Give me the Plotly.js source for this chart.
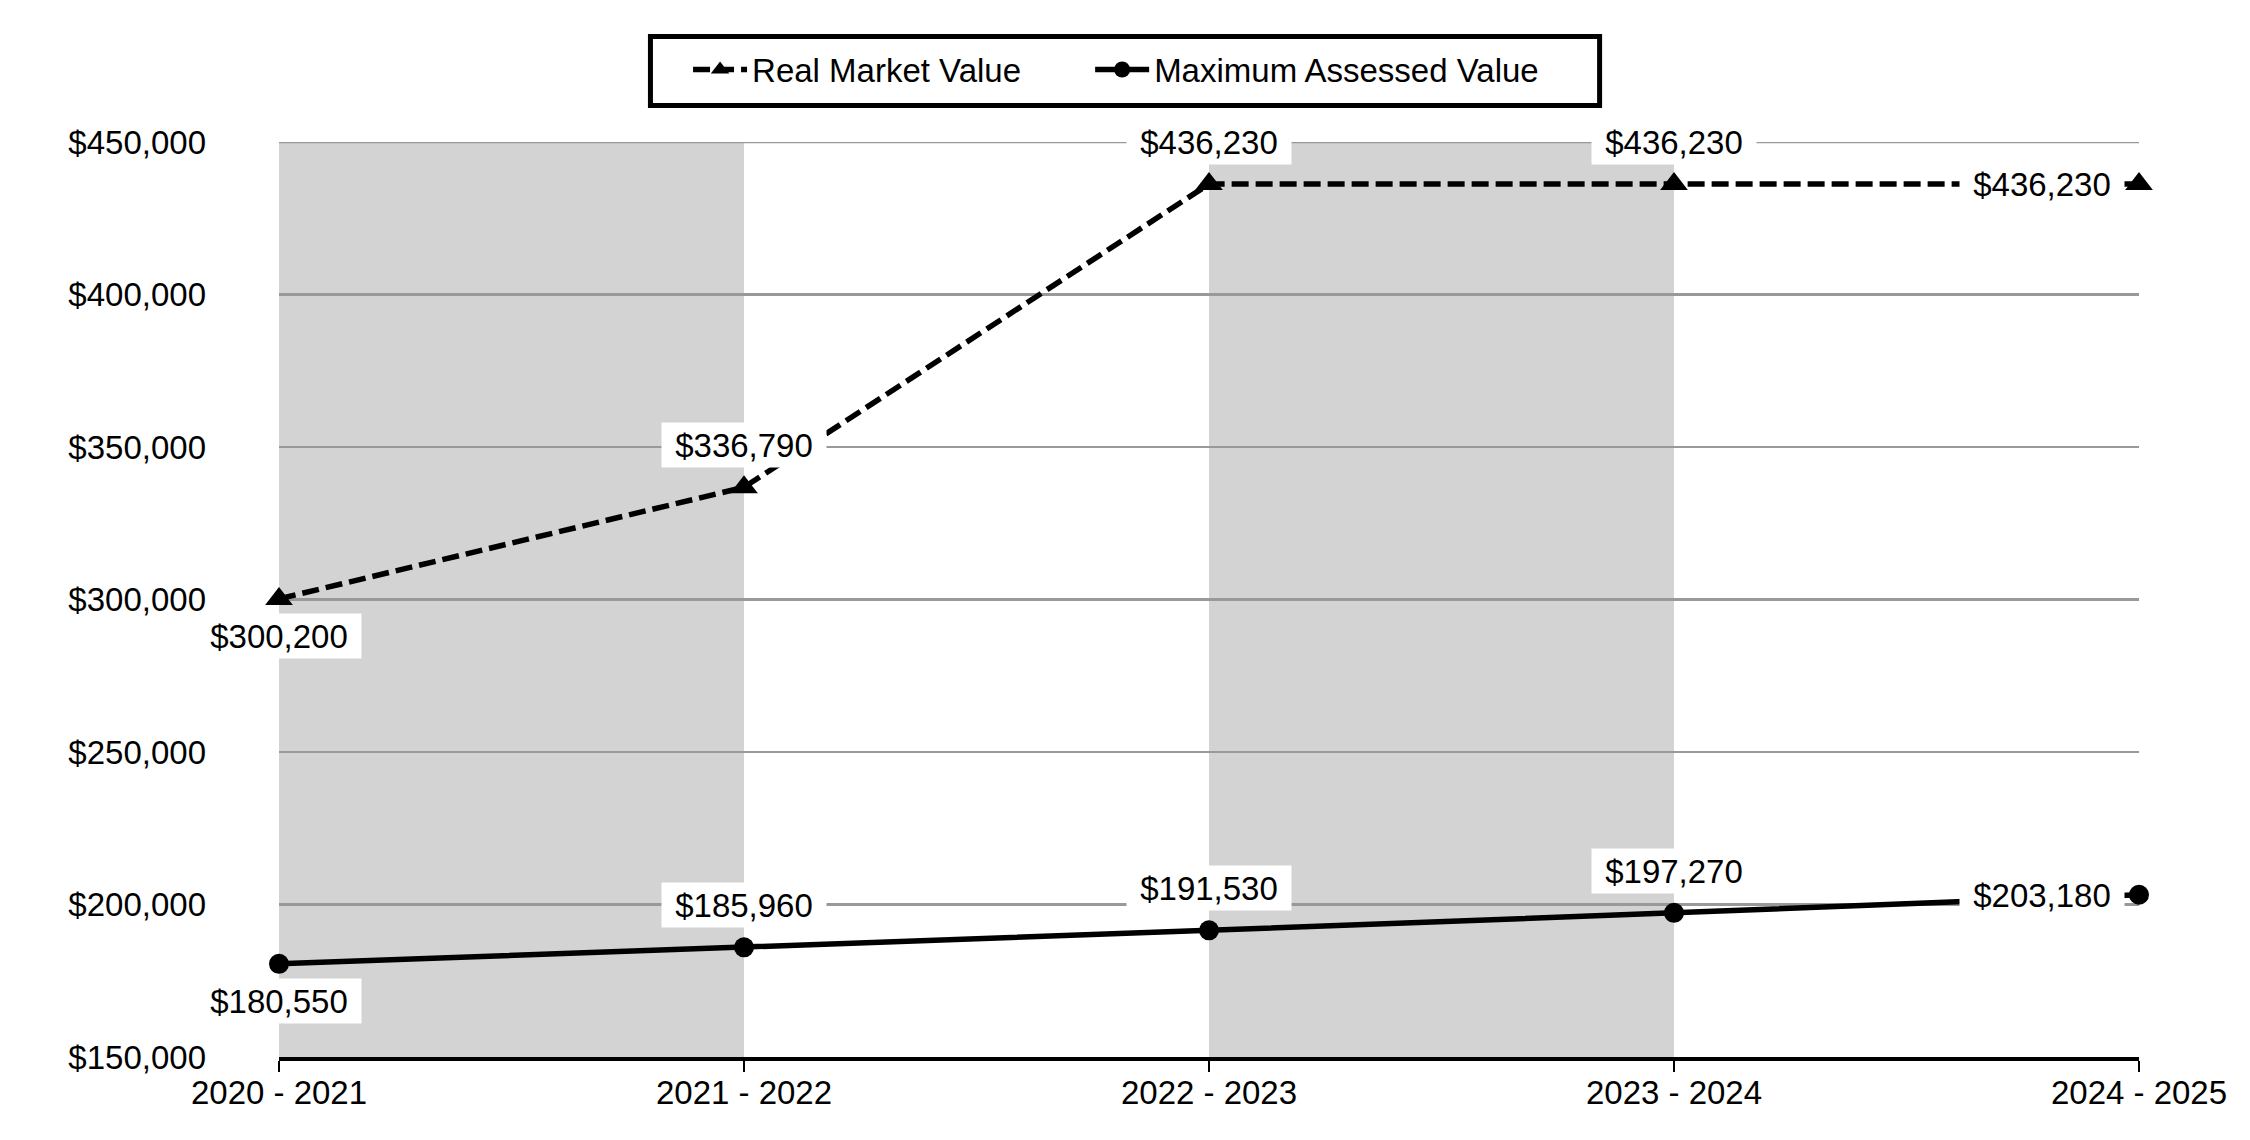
<!DOCTYPE html>
<html>
<head>
<meta charset="utf-8">
<script src="https://cdn.plot.ly/plotly-3.0.1.min.js"></script>
<style>
  html, body { margin: 0; padding: 0; background: #ffffff; }
  #chart { width: 2250px; height: 1140px; }
</style>
</head>
<body>
<div id="chart"></div>
<script>
// ---- Data ----
const years = ['2020 - 2021', '2021 - 2022', '2022 - 2023', '2023 - 2024', '2024 - 2025'];
const realMarketValue = [300200, 336790, 436230, 436230, 436230];
const maxAssessedValue = [180550, 185960, 191530, 197270, 203180];
const yTickValues = [150000, 200000, 250000, 300000, 350000, 400000, 450000];
const seriesNames = ['Real Market Value', 'Maximum Assessed Value'];

const FONT = 'Liberation Sans, Arial, sans-serif';
const FS = 33;
const fmt = v => '$' + v.toLocaleString('en-US');

const traces = [
  {
    x: years, y: realMarketValue, name: seriesNames[0], legend: 'legend',
    type: 'scatter', mode: 'lines+markers', cliponaxis: false,
    line: { color: '#000000', width: 5.5, dash: '17px,7px' },
    marker: { symbol: 'triangle-up', size: 24, color: '#000000' }
  },
  {
    x: years, y: maxAssessedValue, name: seriesNames[1], legend: 'legend2',
    type: 'scatter', mode: 'lines+markers', cliponaxis: false,
    line: { color: '#000000', width: 5.5 },
    marker: { symbol: 'circle', size: 20, color: '#000000' }
  }
];

// Shaded alternating bands
const shapes = [];
for (let i = 0; i + 1 < years.length; i += 2) {
  shapes.push({
    type: 'rect', xref: 'x', yref: 'paper', x0: i, x1: i + 1, y0: 0, y1: 1,
    fillcolor: '#d3d3d3', line: { width: 0 }, layer: 'below'
  });
}
// top gridline (at the upper range edge)
shapes.push({
  type: 'line', xref: 'paper', yref: 'y', x0: 0, x1: 1,
  y0: yTickValues[yTickValues.length - 1], y1: yTickValues[yTickValues.length - 1],
  line: { color: '#999999', width: 2.5 }, layer: 'below'
});
// legend frame
shapes.push({
  type: 'rect', xref: 'paper', yref: 'paper',
  x0: 0.1997, x1: 0.7100, y0: 1.0399, y1: 1.1153,
  line: { color: '#000000', width: 5 }, fillcolor: 'rgba(0,0,0,0)', layer: 'above'
});

// Data labels
const annotations = [];
function addLabels(values) {
  values.forEach((v, i) => {
    const a = {
      x: years[i], y: v, xref: 'x', yref: 'y', text: fmt(v), showarrow: false,
      font: { family: FONT, size: FS, color: '#000000' },
      bgcolor: '#ffffff', borderpad: 2, width: 160, height: 40
    };
    if (i === values.length - 1) {
      a.xanchor = 'right'; a.yanchor = 'middle'; a.xshift = -14;
    } else if (i === 0) {
      a.xanchor = 'center'; a.yanchor = 'middle'; a.yshift = -37;
    } else {
      a.xanchor = 'center'; a.yanchor = 'middle'; a.yshift = 42;
    }
    annotations.push(a);
  });
}
addLabels(realMarketValue);
addLabels(maxAssessedValue);

const legendBase = {
  orientation: 'h', xref: 'container', yref: 'container',
  xanchor: 'left', y: 0.939, yanchor: 'middle',
  bgcolor: 'rgba(0,0,0,0)', borderwidth: 0, itemwidth: 54,
  font: { family: FONT, size: FS, color: '#000000' }
};

const layout = {
  width: 2250, height: 1140,
  margin: { l: 279, r: 111, t: 142, b: 83 },
  paper_bgcolor: '#ffffff', plot_bgcolor: '#ffffff',
  font: { family: FONT, size: FS, color: '#000000' },
  showlegend: true,
  legend: Object.assign({}, legendBase, { x: 0.3058 }),
  legend2: Object.assign({}, legendBase, { x: 0.4845 }),
  xaxis: {
    type: 'category', range: [0, years.length - 1],
    showgrid: false, zeroline: false,
    showline: true, linecolor: '#000000', linewidth: 4,
    ticks: 'outside', ticklen: 11, tickwidth: 2, tickcolor: '#000000',
    ticklabelstandoff: -8,
    tickfont: { family: FONT, size: FS, color: '#000000' },
    fixedrange: true
  },
  yaxis: {
    range: [150000, 450000], tickvals: yTickValues,
    ticktext: yTickValues.map(fmt),
    showgrid: true, gridcolor: '#999999', gridwidth: 2.5,
    zeroline: false, showline: false, ticks: '',
    ticklabelstandoff: 72,
    tickfont: { family: FONT, size: FS, color: '#000000' },
    fixedrange: true
  },
  shapes: shapes,
  annotations: annotations
};

Plotly.newPlot('chart', traces, layout, { displayModeBar: false, staticPlot: true });
</script>
</body>
</html>
